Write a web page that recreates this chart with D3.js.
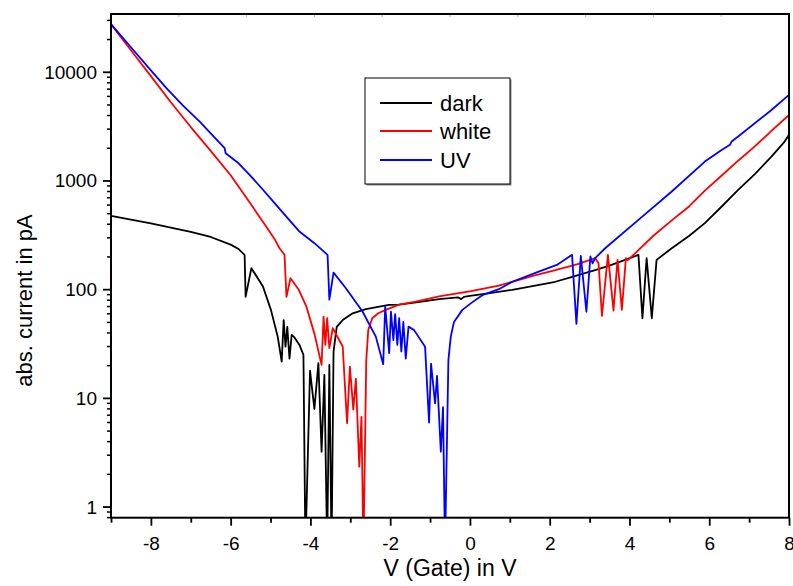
<!DOCTYPE html>
<html><head><meta charset="utf-8">
<script src="https://cdn.jsdelivr.net/npm/d3@7"></script>
<style>body{margin:0;background:#fff}text{font-family:Arial,"Liberation Sans",sans-serif;fill:#000}</style>
</head><body>
<svg id="c" width="793" height="586"></svg>
<script>
// ---- data ----
const seriesNames = ["dark", "white", "UV"];
const seriesColors = ["#000000", "#ff0000", "#0000ff"];

const darkV = [-9,-8.5,-8,-7.5,-7,-6.5,-6,-5.8,-5.65,-5.625,-5.48,-5.19,-4.99,-4.82,-4.72,-4.67,-4.625,-4.58,-4.525,-4.47,-4.4,-4.275,-4.175,-4.125,-4.01,-3.9,-3.8,-3.72,-3.65,-3.58,-3.525,-3.47,-3.42,-3.34,-3.19,-2.94,-2.61,-2.03,-1.775,-1.3,-0.775,-0.3,-0.22,-0.15,0,0.5,1.06,1.6,2.14,2.5,3.14,3.5,3.89,4.225,4.325,4.43,4.56,4.68,5.06,5.5,5.89,6.3,6.725,7.15,7.56,7.89,8];
const darkI = [472,437,403,369,337,302,257,234,207,85,156,106,64.5,36.6,21.6,52,29.6,45,23,38,36,30.7,24.9,0.4,17.8,7.9,20.9,3.2,16.3,0.4,20.1,0.4,26.7,45,52,60,65.5,71.8,72,76,81,84,81,85,86.8,92,98.6,107,117,128,150,165,186,207,54,193,54,186,238,310,405,570,819,1150,1660,2280,2630];

const whiteV = [-9,-8.5,-8,-7.5,-7,-6.5,-6,-5.5,-5.11,-4.9,-4.775,-4.65,-4.6,-4.5,-4.3,-4.1,-3.9,-3.72,-3.67,-3.625,-3.58,-3.525,-3.44,-3.19,-3.08,-3.01,-2.925,-2.86,-2.775,-2.72,-2.67,-2.6,-2.55,-2.45,-2.3,-2.11,-1.775,-1.36,-0.775,0.025,0.725,1.06,1.6,2.14,2.7,3.14,3.225,3.31,3.46,3.6,3.7,3.81,3.91,3.96,4.1,4.6,5.06,5.5,5.89,6.3,6.725,7.15,7.56,8];
const whiteI = [27400,15800,9120,5250,3100,1875,1117,610,377,290,238,207,85,126,100,69,39,20.1,56,30.7,54,28.7,43.8,29.7,5.85,19.4,7.8,15,2.33,6.7,0.4,22,42,54,60,64.5,72,77,86,96,108,117,133,150,170,193,173,56.8,207,63.6,186,64.5,193,185,207,310,430,580,807,1100,1520,2070,2865,4000];

const uvV = [-9,-8.5,-8,-7.61,-7.2,-6.775,-6.4,-6.15,-6.125,-5.8,-5.525,-5.2,-4.86,-4.275,-3.9,-3.57,-3.525,-3.42,-3.11,-2.69,-2.36,-2.175,-2.125,-2.025,-1.98,-1.92,-1.875,-1.82,-1.775,-1.72,-1.67,-1.61,-1.54,-1.4,-1.125,-1.025,-0.975,-0.875,-0.825,-0.73,-0.675,-0.625,-0.54,-0.48,-0.4,-0.19,0.02,0.31,0.725,1.06,1.725,2.18,2.56,2.67,2.78,2.92,3.02,3.075,3.14,3.39,4.225,5.06,5.89,6.31,6.52,6.56,6.725,7.56,8];
const uvI = [27400,16800,10300,7060,4900,3480,2480,1980,1780,1440,1127,830,597,339,265,207,80,142,102,62,36.6,20.4,69,25.8,62,34,59,30.7,54,26.7,50,23,45.3,42,29.6,5.93,20.6,8.9,15.9,3.2,8.2,0.4,22.4,36.6,50,64.5,74,88,100,117,145,167,207,48,202,62,200,173,193,238,434,791,1493,1910,2128,2280,2535,4450,6130];

const xMajor = [-8,-6,-4,-2,0,2,4,6,8];
const xMinor = [-9,-7,-5,-3,-1,1,3,5,7];
const yMajor = [1,10,100,1000,10000];

// ---- layout ----
const L = 111, R = 789, T = 14, B = 517.7;
const svg = d3.select("#c");
const x = d3.scaleLinear().domain([-9, 8]).range([L, R]);
const y = d3.scaleLog().domain([0.79, 34000]).range([B, T]);

const yMinor = [];
[0.1,1,10,100,1000,10000].forEach(d => { for (let k = 2; k <= 9; k++) { const v = d*k; if (v >= 0.79 && v <= 34000) yMinor.push(v); } });

svg.append("defs").append("clipPath").attr("id","clip")
  .append("rect").attr("x", L).attr("y", T).attr("width", R-L).attr("height", B-T);

// series
const data = [[darkV, darkI], [whiteV, whiteI], [uvV, uvI]];
const line = d3.line().x(d => x(d[0])).y(d => y(d[1]));
const g = svg.append("g").attr("clip-path", "url(#clip)");
data.forEach((s, i) => {
  const pts = s[0].map((v, j) => [v, s[1][j]]);
  g.append("path").datum(pts).attr("d", line)
    .attr("fill", "none").attr("stroke", seriesColors[i]).attr("stroke-width", 1.8)
    .attr("stroke-linejoin", "round");
});

// faint top ticks
const topTicks = d3.range(1, 10).map(k => L + k*(R-L)/10);
svg.append("g").selectAll("line").data(topTicks).join("line")
  .attr("x1", d => d).attr("x2", d => d).attr("y1", T).attr("y2", T+3)
  .attr("stroke", "#b0b0b0").attr("stroke-width", 1);

// frame
svg.append("rect").attr("x", L).attr("y", T).attr("width", R-L).attr("height", B-T)
  .attr("fill", "none").attr("stroke", "#000").attr("stroke-width", 2);

// bottom axis
const ax = svg.append("g").attr("transform", `translate(0,${B})`)
  .call(d3.axisBottom(x).tickValues(xMajor).tickSize(8).tickPadding(11).tickFormat(d => String(d)));
ax.select(".domain").remove();
ax.selectAll("line").attr("stroke-width", 1.8);
ax.selectAll("text").attr("font-size", 19).attr("font-family", "Arial, Liberation Sans, sans-serif");
const axm = svg.append("g").attr("transform", `translate(0,${B})`)
  .call(d3.axisBottom(x).tickValues(xMinor).tickSize(5).tickFormat(""));
axm.select(".domain").remove();
axm.selectAll("line").attr("stroke-width", 1.8);

// left axis
const ay = svg.append("g").attr("transform", `translate(${L},0)`)
  .call(d3.axisLeft(y).tickValues(yMajor).tickSize(8).tickPadding(6).tickFormat(d3.format("d")));
ay.select(".domain").remove();
ay.selectAll("line").attr("stroke-width", 1.8);
ay.selectAll("text").attr("font-size", 19).attr("dy", "0.34em").attr("font-family", "Arial, Liberation Sans, sans-serif");
const aym = svg.append("g").attr("transform", `translate(${L},0)`)
  .call(d3.axisLeft(y).tickValues(yMinor).tickSize(4).tickFormat(""));
aym.select(".domain").remove();
aym.selectAll("line").attr("stroke-width", 1.5);

// axis titles
svg.append("text").attr("x", 450).attr("y", 576).attr("text-anchor", "middle")
  .attr("font-size", 23).text("V (Gate) in V");
svg.append("text").attr("transform", "translate(32,300.5) rotate(-90)").attr("text-anchor", "middle")
  .attr("font-size", 22).text("abs. current in pA");

// legend
const lg = svg.append("g");
lg.append("rect").attr("x", 366.5).attr("y", 79.5).attr("width", 145).attr("height", 106)
  .attr("fill", "#888");
lg.append("rect").attr("x", 365).attr("y", 78).attr("width", 145).attr("height", 106)
  .attr("fill", "#fff").attr("stroke", "#000").attr("stroke-width", 1);
const legY = [103, 131, 160];
seriesNames.forEach((n, i) => {
  lg.append("line").attr("x1", 380).attr("x2", 432).attr("y1", legY[i]).attr("y2", legY[i])
    .attr("stroke", seriesColors[i]).attr("stroke-width", 1.8);
  lg.append("text").attr("x", 440).attr("y", legY[i] + 8).attr("font-size", 22).text(n);
});
</script>
</body></html>
